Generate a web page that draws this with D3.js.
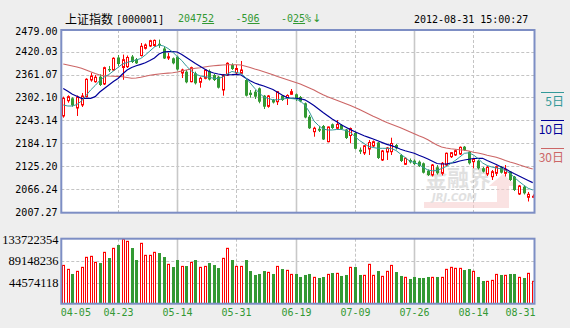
<!DOCTYPE html>
<html>
<head>
<meta charset="utf-8">
<script src="https://cdn.jsdelivr.net/npm/d3@7"></script>
<style>
  html, body { margin: 0; padding: 0; background: #eeeeee; }
  svg { display: block; }
</style>
</head>
<body>
<svg id="chart" width="570" height="328"></svg>
<script>
// Trading days, 2012-04-05 .. 2012-08-31
const dates = [
  "04-05","04-06","04-09","04-10","04-11","04-12","04-13","04-16","04-17","04-18","04-19","04-20","04-23","04-24","04-25","04-26","04-27",
  "05-02","05-03","05-04","05-07","05-08","05-09","05-10","05-11","05-14","05-15","05-16","05-17","05-18","05-21","05-22","05-23","05-24","05-25","05-28","05-29","05-30","05-31",
  "06-01","06-04","06-05","06-06","06-07","06-08","06-11","06-12","06-13","06-14","06-15","06-18","06-19","06-20","06-21","06-25","06-26","06-27","06-28","06-29",
  "07-02","07-03","07-04","07-05","07-06","07-09","07-10","07-11","07-12","07-13","07-16","07-17","07-18","07-19","07-20","07-23","07-24","07-25","07-26","07-27","07-30","07-31",
  "08-01","08-02","08-03","08-06","08-07","08-08","08-09","08-10","08-13","08-14","08-15","08-16","08-17","08-20","08-21","08-22","08-23","08-24","08-27","08-28","08-29","08-30","08-31"
];

const open = [
  2254.4, 2293.8, 2300.0, 2275.0, 2282.7, 2304.1, 2347.1, 2342.7, 2355.6, 2336.8,
  2375.4, 2372.9, 2405.1, 2379.3, 2381.4, 2407.6, 2400.4, 2410.2, 2428.8, 2434.7,
  2436.0, 2440.4, 2428.3, 2403.8, 2403.0, 2407.1, 2365.1, 2368.5, 2342.7, 2364.4,
  2341.2, 2351.5, 2370.3, 2360.0, 2355.6, 2321.3, 2360.0, 2385.7, 2365.6, 2364.4,
  2347.1, 2314.4, 2317.0, 2325.7, 2306.7, 2279.3, 2295.6, 2291.2, 2306.7, 2300.0,
  2310.3, 2310.3, 2303.3, 2287.1, 2252.5, 2213.9, 2221.4, 2228.6, 2188.1, 2233.0,
  2222.7, 2231.2, 2219.6, 2204.1, 2210.6, 2167.3, 2159.0, 2169.3, 2177.1, 2186.1,
  2141.0, 2161.6, 2162.4, 2179.6, 2153.9, 2129.9, 2141.0, 2139.2, 2136.6, 2132.5,
  2113.4, 2102.3, 2122.2, 2106.7, 2128.1, 2149.5, 2153.9, 2156.4, 2175.3, 2162.4,
  2136.6, 2139.2, 2119.6, 2104.9, 2098.0, 2106.7, 2122.2, 2106.7, 2110.9, 2098.0,
  2053.4, 2072.2, 2044.9, 2045.7
];
const high = [
  2304.1, 2307.7, 2302.5, 2307.2, 2313.6, 2351.5, 2365.9, 2360.0, 2361.8, 2381.4,
  2383.2, 2405.6, 2411.5, 2412.5, 2410.2, 2411.5, 2403.8, 2442.4, 2441.1, 2450.7,
  2451.4, 2451.2, 2432.1, 2416.7, 2405.1, 2409.7, 2376.2, 2372.9, 2381.4, 2368.5,
  2355.6, 2374.7, 2374.2, 2362.6, 2357.4, 2361.8, 2392.7, 2390.1, 2385.7, 2396.1,
  2349.7, 2321.3, 2321.3, 2327.8, 2308.5, 2308.5, 2298.2, 2318.8, 2308.5, 2310.3,
  2323.9, 2312.3, 2305.9, 2289.1, 2256.9, 2226.8, 2228.6, 2231.2, 2227.3, 2235.0,
  2244.0, 2233.7, 2220.9, 2224.7, 2213.9, 2173.2, 2179.6, 2192.5, 2191.2, 2187.4,
  2166.8, 2174.5, 2198.4, 2182.2, 2156.4, 2147.4, 2144.9, 2142.3, 2139.7, 2134.6,
  2116.5, 2130.7, 2128.1, 2135.8, 2160.3, 2161.6, 2168.0, 2175.8, 2177.1, 2164.2,
  2144.9, 2141.0, 2123.0, 2125.5, 2115.2, 2126.8, 2125.5, 2128.1, 2112.6, 2099.8,
  2076.6, 2075.3, 2058.6, 2052.1
];
const low = [
  2250.0, 2288.6, 2278.3, 2254.4, 2277.5, 2302.5, 2342.7, 2340.1, 2331.6, 2334.2,
  2367.7, 2370.3, 2383.2, 2347.6, 2378.0, 2390.9, 2388.3, 2407.6, 2425.7, 2432.1,
  2432.9, 2429.8, 2401.2, 2398.6, 2387.5, 2371.6, 2352.2, 2338.6, 2341.2, 2335.5,
  2327.3, 2348.9, 2345.8, 2344.5, 2325.2, 2306.7, 2357.4, 2372.9, 2361.8, 2362.6,
  2304.6, 2301.5, 2298.2, 2287.1, 2272.4, 2275.7, 2286.6, 2282.7, 2293.0, 2282.7,
  2308.5, 2293.0, 2289.6, 2248.4, 2220.9, 2201.0, 2213.1, 2192.5, 2186.6, 2220.9,
  2218.3, 2218.3, 2195.1, 2184.0, 2168.0, 2156.4, 2153.9, 2153.9, 2174.5, 2143.6,
  2138.4, 2141.0, 2153.9, 2168.0, 2135.8, 2128.1, 2132.0, 2128.1, 2123.0, 2106.2,
  2099.8, 2098.5, 2103.6, 2101.1, 2125.5, 2146.1, 2151.3, 2153.9, 2164.2, 2129.4,
  2119.6, 2116.5, 2108.8, 2099.8, 2089.5, 2099.8, 2106.2, 2098.5, 2086.9, 2061.1,
  2050.8, 2052.1, 2034.1, 2043.6
];
const close = [
  2300.0, 2304.1, 2281.9, 2303.3, 2305.9, 2348.9, 2357.4, 2354.1, 2334.2, 2378.8,
  2372.1, 2403.0, 2388.3, 2399.4, 2405.1, 2393.5, 2390.1, 2433.9, 2437.3, 2448.3,
  2449.1, 2436.5, 2402.5, 2406.9, 2390.1, 2374.2, 2372.9, 2341.2, 2378.8, 2338.6,
  2351.5, 2372.9, 2348.4, 2347.1, 2327.3, 2360.0, 2390.1, 2375.4, 2376.7, 2372.9,
  2306.7, 2308.5, 2304.1, 2291.2, 2278.3, 2305.9, 2289.1, 2317.0, 2295.6, 2307.2,
  2317.0, 2300.0, 2291.7, 2250.5, 2222.7, 2222.7, 2216.5, 2193.8, 2226.0, 2223.4,
  2232.5, 2220.9, 2197.7, 2222.1, 2169.9, 2162.4, 2177.6, 2186.1, 2188.1, 2146.1,
  2164.2, 2171.9, 2183.5, 2171.1, 2138.4, 2145.4, 2135.1, 2130.7, 2125.5, 2108.3,
  2102.3, 2128.1, 2106.7, 2132.5, 2158.3, 2159.8, 2165.0, 2173.7, 2166.8, 2132.5,
  2142.8, 2119.6, 2110.9, 2122.2, 2110.9, 2123.7, 2108.3, 2117.0, 2089.5, 2063.7,
  2074.0, 2055.2, 2052.58, 2047.52
];
const volume = [
  80400000, 72500000, 63200000, 68500000, 76500000, 96500000, 98500000, 86500000, 85100000, 106500000,
  95100000, 114500000, 121100000, 133722354, 128500000, 115100000, 91100000, 124500000, 100500000, 100500000,
  106500000, 105100000, 97100000, 82500000, 77100000, 91100000, 78400000, 79100000, 86500000, 91100000,
  76500000, 78400000, 85100000, 81100000, 75100000, 94500000, 114500000, 91100000, 78400000, 78400000,
  91100000, 69100000, 61200000, 63200000, 69100000, 66500000, 63200000, 78400000, 73100000, 70500000,
  62400000, 63200000, 57200000, 61200000, 63200000, 56500000, 55200000, 57200000, 62400000, 65200000,
  64500000, 59200000, 61200000, 76500000, 77100000, 61200000, 60500000, 82500000, 60500000, 69100000,
  58500000, 68500000, 80400000, 67100000, 59200000, 56500000, 53200000, 57200000, 55200000, 55200000,
  57200000, 56500000, 57200000, 56500000, 72500000, 76500000, 74500000, 74500000, 71100000, 73100000,
  68500000, 57200000, 49200000, 48500000, 50500000, 62400000, 61200000, 60500000, 63200000, 63200000,
  56500000, 55200000, 64500000, 48500000
];

// Moving averages of the close (5, 10 and 30 sessions)
const ma5 = [
  2282.7, 2280.1, 2280.1, 2284.0, 2293.0, 2307.2, 2321.3, 2332.9, 2345.8, 2354.8,
  2361.3, 2370.3, 2379.3, 2388.3, 2392.2, 2396.0, 2398.6, 2402.5, 2411.5, 2421.8,
  2432.1, 2437.3, 2434.7, 2428.2, 2419.2, 2407.6, 2397.3, 2383.2, 2371.6, 2362.6,
  2357.9, 2355.3, 2354.1, 2351.5, 2351.0, 2354.8, 2362.6, 2369.0, 2366.4, 2363.9,
  2353.5, 2339.4, 2325.7, 2313.6, 2303.3, 2299.4, 2296.1, 2296.1, 2298.1, 2299.4,
  2299.4, 2298.1, 2293.0, 2282.7, 2264.7, 2241.5, 2229.9, 2220.9, 2218.3, 2218.3,
  2219.6, 2219.6, 2217.0, 2211.8, 2201.5, 2191.2, 2183.5, 2175.8, 2173.2, 2171.1,
  2171.1, 2171.1, 2170.6, 2165.5, 2156.4, 2147.4, 2138.4, 2134.6, 2129.4, 2121.7,
  2115.2, 2113.2, 2113.9, 2119.1, 2124.2, 2131.9, 2139.7, 2148.7, 2158.2, 2159.5,
  2153.9, 2144.9, 2133.3, 2126.8, 2123.0, 2120.4, 2118.3, 2113.9, 2106.7, 2096.0,
  2085.6, 2076.6, 2068.1, 2063.7
];
const ma10 = [
  2325.2, 2318.0, 2310.5, 2305.1, 2299.9, 2299.9, 2299.9, 2304.1, 2316.2, 2325.2,
  2334.2, 2343.2, 2351.0, 2362.6, 2372.9, 2379.3, 2383.7, 2387.5, 2391.4, 2397.1,
  2403.8, 2414.1, 2419.2, 2420.0, 2420.0, 2419.2, 2412.8, 2405.0, 2397.3, 2389.6,
  2382.4, 2375.4, 2369.0, 2365.1, 2362.6, 2360.5, 2360.5, 2361.0, 2361.8, 2360.0,
  2352.2, 2345.0, 2339.4, 2335.2, 2331.6, 2327.0, 2322.6, 2315.4, 2308.5, 2302.5,
  2299.9, 2299.9, 2298.7, 2296.1, 2289.1, 2281.4, 2272.4, 2263.4, 2254.9, 2246.6,
  2239.4, 2232.0, 2225.5, 2219.3, 2213.9, 2208.5, 2203.3, 2199.2, 2195.1, 2190.5,
  2185.8, 2181.2, 2178.1, 2173.7, 2168.6, 2164.7, 2161.6, 2158.3, 2153.1, 2148.7,
  2143.5, 2137.6, 2131.9, 2130.7, 2130.7, 2132.7, 2135.0, 2138.4, 2141.0, 2143.0,
  2144.8, 2145.4, 2145.4, 2139.7, 2134.5, 2129.4, 2123.5, 2118.3, 2111.4, 2105.4,
  2099.8, 2093.9, 2088.2, 2082.7
];
const ma30 = [
  2388.3, 2385.7, 2383.2, 2380.6, 2377.2, 2372.9, 2368.2, 2363.9, 2360.0, 2358.2,
  2357.4, 2356.9, 2356.4, 2355.3, 2353.5, 2351.7, 2352.2, 2354.0, 2356.9, 2359.5,
  2361.0, 2362.6, 2363.9, 2364.9, 2365.6, 2367.7, 2370.3, 2372.9, 2375.4, 2377.2,
  2378.5, 2380.6, 2382.4, 2383.7, 2384.7, 2385.7, 2386.3, 2386.3, 2386.3, 2385.7,
  2382.4, 2379.3, 2375.4, 2372.1, 2368.2, 2364.4, 2360.5, 2356.1, 2352.2, 2348.4,
  2344.5, 2340.7, 2336.8, 2331.6, 2326.5, 2321.3, 2314.9, 2309.0, 2303.8, 2299.4,
  2294.8, 2290.4, 2285.8, 2281.4, 2276.2, 2271.1, 2265.2, 2259.5, 2253.6, 2248.4,
  2242.8, 2237.6, 2233.0, 2228.6, 2224.0, 2218.8, 2213.6, 2208.5, 2203.3, 2199.0,
  2193.0, 2186.1, 2179.6, 2174.5, 2171.9, 2169.8, 2168.8, 2167.3, 2166.2, 2164.2,
  2161.1, 2159.1, 2156.5, 2153.1, 2150.8, 2148.2, 2144.1, 2139.7, 2135.9, 2132.5,
  2128.6, 2125.0, 2120.9, 2117.8
];

const priceTicks = [2479.00, 2420.03, 2361.07, 2302.10, 2243.14, 2184.17, 2125.20, 2066.24, 2007.27];
const volumeTicks = [133722354, 89148236, 44574118];
const dateTicks = ["04-05", "04-23", "05-14", "05-31", "06-19", "07-09", "07-26", "08-14", "08-31"];

const quote = { name: "上证指数", code: "[000001]", last: ["2047", "52"], change: ["-5", "06"], pct: ["-0", "25", "%"], arrow: "↓", time: "2012-08-31 15:00:27" };
const legend = [
  { label: "5日", color: "#339999" },
  { label: "10日", color: "#000099" },
  { label: "30日", color: "#cc6666" }
];

// ---- layout ----
const UP = "#ff0000", DOWN = "#339933", FRAME = "#7d8ec4", GRID = "#c4c4c4";
const MONO = "'DejaVu Sans Mono', 'Liberation Mono', monospace";
const CJK = "'Noto Sans CJK SC', sans-serif";
const plotL = 61.3, plotR = 534.5;
const priceTop = 30, priceBot = 212.7;
const volTop = 238.7, volBot = 303.7;

const svg = d3.select("#chart");

const x = d3.scaleBand().domain(dates).range([61, 535]);
const cx = d => Math.round(x(d) + x.bandwidth() / 2);
const y = d3.scaleLinear().domain([2007.27, 2479]).range([211.9, 28.8]);
const yv = d3.scaleLinear().domain([0, 133722354]).range([305.6, 238.7]);

const defs = svg.append("defs");
defs.append("clipPath").attr("id", "clipPrice").append("rect")
  .attr("x", plotL).attr("y", priceTop).attr("width", plotR - plotL).attr("height", priceBot - priceTop);
defs.append("clipPath").attr("id", "clipVol").append("rect")
  .attr("x", plotL).attr("y", volTop).attr("width", plotR - plotL).attr("height", volBot - volTop);

// panel backgrounds
svg.append("rect").attr("x", plotL).attr("y", priceTop).attr("width", plotR - plotL).attr("height", priceBot - priceTop).attr("fill", "#fff");
svg.append("rect").attr("x", plotL).attr("y", volTop).attr("width", plotR - plotL).attr("height", volBot - volTop).attr("fill", "#fff");

// ---- grid ----
const gridP = svg.append("g").attr("clip-path", "url(#clipPrice)");
gridP.selectAll("line.h").data(priceTicks).join("line")
  .attr("x1", plotL).attr("x2", plotR)
  .attr("y1", d => Math.round(y(d)) + 0.5).attr("y2", d => Math.round(y(d)) + 0.5)
  .attr("stroke", GRID).attr("stroke-dasharray", "3,2");

const innerDates = dateTicks.slice(1, -1);
function vGrid(g, top, bot) {
  g.selectAll("line.v").data(innerDates).join("line")
    .attr("x1", d => cx(d) + 0.5).attr("x2", d => cx(d) + 0.5)
    .attr("y1", top).attr("y2", bot)
    .attr("stroke", (d, i) => i % 2 ? "#c8c8c8" : GRID)
    .attr("stroke-width", (d, i) => i % 2 ? 1.6 : 1)
    .attr("stroke-dasharray", (d, i) => i % 2 ? null : "3,2");
}
vGrid(gridP, priceTop, priceBot);

const gridV = svg.append("g").attr("clip-path", "url(#clipVol)");
gridV.selectAll("line.h").data(volumeTicks.slice(1)).join("line")
  .attr("x1", plotL).attr("x2", plotR)
  .attr("y1", d => Math.round(yv(d)) + 0.5).attr("y2", d => Math.round(yv(d)) + 0.5)
  .attr("stroke", GRID).attr("stroke-dasharray", "3,2");
vGrid(gridV, volTop, volBot);

// ---- watermark ----
const wm = svg.append("g").attr("clip-path", "url(#clipPrice)").attr("opacity", 0.55);
wm.append("path")
  .attr("d", "M424,202 L497,202 L497,186 L489,186 L503,174 L517,186 L509,186 L509,208 L424,208 Z")
  .attr("fill", "#f6cccc");
wm.append("text").attr("x", 425).attr("y", 186)
  .attr("font-family", CJK).attr("font-weight", "bold").attr("font-size", 22)
  .attr("fill", "#c8c8c8").text("金融界");
wm.append("text").attr("x", 432).attr("y", 201)
  .attr("font-family", "'DejaVu Sans', sans-serif").attr("font-style", "italic").attr("font-weight", "bold")
  .attr("font-size", 10).attr("fill", "#c8c8c8").text("JRJ.COM");

// ---- candles ----
const idx = d3.range(dates.length);
const candles = svg.append("g").attr("clip-path", "url(#clipPrice)");
const isUp = i => close[i] >= open[i];
candles.selectAll("line.wick").data(idx).join("line")
  .attr("x1", i => cx(dates[i]) + 0.5).attr("x2", i => cx(dates[i]) + 0.5)
  .attr("y1", i => y(high[i])).attr("y2", i => y(low[i]))
  .attr("stroke", i => isUp(i) ? UP : DOWN);
candles.selectAll("rect.body").data(idx).join("rect")
  .attr("x", i => isUp(i) ? cx(dates[i]) - 0.5 : cx(dates[i]) - 1)
  .attr("width", i => isUp(i) ? 2 : 3)
  .attr("y", i => y(Math.max(open[i], close[i])))
  .attr("height", i => Math.max(1, Math.abs(y(open[i]) - y(close[i]))))
  .attr("fill", i => isUp(i) ? "#fff" : DOWN)
  .attr("stroke", i => isUp(i) ? UP : "none");

// ---- moving averages ----
const maLine = d3.line().x((v, i) => x(dates[i]) + x.bandwidth() / 2).y(v => y(v));
const maG = svg.append("g").attr("clip-path", "url(#clipPrice)").attr("fill", "none");
maG.append("path").attr("d", maLine(ma30)).attr("stroke", legend[2].color).attr("stroke-width", 1.1);
maG.append("path").attr("d", maLine(ma10)).attr("stroke", legend[1].color).attr("stroke-width", 1.2);
maG.append("path").attr("d", maLine(ma5)).attr("stroke", legend[0].color).attr("stroke-width", 1);

// ---- volume bars ----
const vol = svg.append("g").attr("clip-path", "url(#clipVol)");
vol.selectAll("rect").data(idx).join("rect")
  .attr("x", i => isUp(i) ? cx(dates[i]) - 0.5 : cx(dates[i]) - 1)
  .attr("width", i => isUp(i) ? 2 : 3)
  .attr("y", i => yv(volume[i]))
  .attr("height", i => volBot - yv(volume[i]))
  .attr("fill", i => isUp(i) ? "#fff" : DOWN)
  .attr("stroke", i => isUp(i) ? UP : "none");

// ---- frames ----
[[priceTop, priceBot], [volTop, volBot]].forEach(([t, b]) => {
  svg.append("rect").attr("x", plotL).attr("y", t).attr("width", plotR - plotL).attr("height", b - t)
    .attr("fill", "none").attr("stroke", FRAME).attr("stroke-width", 2);
});

// ---- axis labels ----
svg.append("g").selectAll("text").data(priceTicks).join("text")
  .attr("x", 57.5)
  .attr("y", (d, i) => y(d) + (i === 0 ? 6.5 : 3.8))
  .attr("text-anchor", "end").attr("font-family", MONO).attr("font-size", 10).attr("fill", "#000")
  .text(d => d.toFixed(2));

svg.append("g").selectAll("text").data(volumeTicks).join("text")
  .attr("x", 58.5)
  .attr("y", (d, i) => yv(d) + (i === 0 ? 5 : 4))
  .attr("text-anchor", "end").attr("font-family", "'Liberation Serif', serif").attr("font-size", 12.5).attr("fill", "#000")
  .text(d => d);

svg.append("g").selectAll("text").data(dateTicks).join("text")
  .attr("x", (d, i) => i === 0 ? plotL - 0.5 : i === dateTicks.length - 1 ? plotR + 1 : cx(d) + 0.5)
  .attr("y", 315.5)
  .attr("text-anchor", (d, i) => i === 0 ? "start" : i === dateTicks.length - 1 ? "end" : "middle")
  .attr("font-family", MONO).attr("font-size", 10).attr("fill", DOWN)
  .text(d => d);

// ---- header ----
const head = svg.append("g");
head.append("text").attr("x", 65).attr("y", 24).attr("font-family", CJK).attr("font-size", 12).attr("fill", "#000").text(quote.name);
head.append("text").attr("x", 116).attr("y", 23).attr("font-family", MONO).attr("font-size", 10).attr("fill", "#000").text(quote.code);
function splitNum(xp, parts, arrow) {
  const t = head.append("text").attr("x", xp).attr("y", 22).attr("font-family", MONO).attr("font-size", 10).attr("fill", DOWN);
  parts.forEach((p, k) => {
    const s = t.append("tspan").text(p);
    if (k === 1) s.attr("text-decoration", "underline");
  });
  if (arrow) t.append("tspan").attr("font-family", "'DejaVu Sans', sans-serif").attr("font-size", 11).attr("dx", 1).text(arrow);
}
splitNum(178, quote.last);
splitNum(235.5, quote.change);
splitNum(281, quote.pct, quote.arrow);
head.append("text").attr("x", 414).attr("y", 23).attr("font-family", MONO).attr("font-size", 10).attr("fill", "#000").text(quote.time);

// ---- legend ----
const lg = svg.append("g");
legend.forEach((l, k) => {
  const ly = 92 + k * 28;
  lg.append("line").attr("x1", 541).attr("x2", 564).attr("y1", ly + 0.5).attr("y2", ly + 0.5).attr("stroke", l.color);
  lg.append("text").attr("x", 564).attr("y", ly + 14).attr("text-anchor", "end")
    .attr("font-family", CJK).attr("font-size", 12).attr("fill", l.color).text(l.label);
});
</script>
</body>
</html>
